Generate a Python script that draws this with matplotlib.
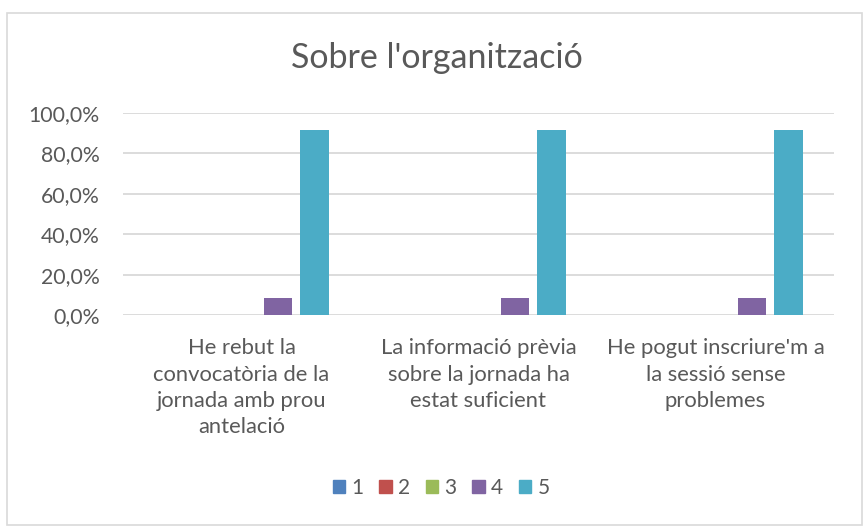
import matplotlib.pyplot as plt
import matplotlib.patches as mpatches
import numpy as np

plt.rcParams['font.family'] = ['Lato', 'DejaVu Sans']

categories = [
    "He rebut la\nconvocatòria de la\njornada amb prou\nantelació",
    "La informació prèvia\nsobre la jornada ha\nestat suficient",
    "He pogut inscriure'm a\nla sessió sense\nproblemes",
]
series_names = ["1", "2", "3", "4", "5"]
serie_1 = [0.0, 0.0, 0.0]
serie_2 = [0.0, 0.0, 0.0]
serie_3 = [0.0, 0.0, 0.0]
serie_4 = [0.083, 0.083, 0.083]
serie_5 = [0.917, 0.917, 0.917]
yticks = [0.0, 0.2, 0.4, 0.6, 0.8, 1.0]

colors = ["#4F81BD", "#C0504D", "#9BBB59", "#8064A2", "#4BACC6"]
text_col = "#595959"
grid_col = "#D9D9D9"

W, H = 864, 526
fig = plt.figure(figsize=(W / 100, H / 100), dpi=100)

# chart border
fig.patches.append(mpatches.Rectangle((7 / W, 1 - 525 / H), 855 / W, 512 / H,
                                      transform=fig.transFigure, fill=False,
                                      edgecolor=grid_col, linewidth=1.2))

ax = fig.add_axes([123 / W, 1 - 315 / H, 711 / W, 202 / H])
x = np.arange(len(categories))
width = 0.122
step = 0.154
for i, (vals, c) in enumerate(zip([serie_1, serie_2, serie_3, serie_4, serie_5], colors)):
    ax.bar(x + (i - 2) * step, vals, width, color=c, zorder=3, label=series_names[i])

ax.set_xlim(-0.5, len(categories) - 0.5)
ax.set_ylim(0, 1)
ax.set_yticks(yticks)
ax.set_yticklabels([f"{v * 100:.1f}%".replace(".", ",") for v in yticks])
ax.tick_params(axis='y', length=0, pad=17, labelsize=15.3, labelcolor=text_col)
ax.set_xticks([])
for s in ax.spines.values():
    s.set_visible(False)
for v in yticks:
    ax.axhline(v, color=grid_col, linewidth=1.3, zorder=1)

for xi, lab in zip(x, categories):
    ax.text(xi, -0.115, lab, transform=ax.get_xaxis_transform(), ha='center', va='top',
            fontsize=15.8, color=text_col, linespacing=1.4)

fig.text(437 / W, 1 - 58 / H, "Sobre l'organització", ha='center', va='center',
         fontsize=24.5, color=text_col)

handles = [mpatches.Patch(color=c) for c in colors]
fig.legend(handles, series_names, loc='center', bbox_to_anchor=(441 / W, 1 - 488 / H),
           ncol=5, frameon=False, handlelength=0.6, handleheight=0.6,
           handletextpad=0.3, columnspacing=0.75, fontsize=15, labelcolor=text_col)

fig.savefig("out.png", dpi=100)
